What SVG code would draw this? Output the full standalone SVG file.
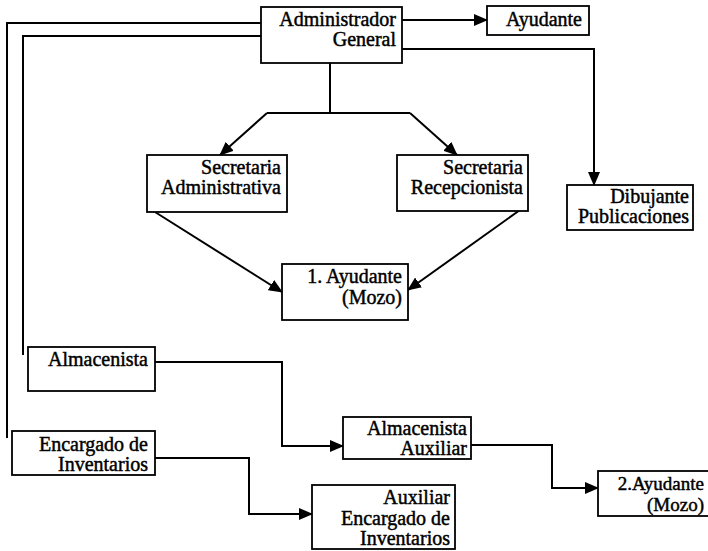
<svg xmlns="http://www.w3.org/2000/svg" width="708" height="551" viewBox="0 0 708 551">
<defs>
<marker id="ah" markerUnits="userSpaceOnUse" markerWidth="14" markerHeight="12" refX="13" refY="6" orient="auto">
<path d="M0,0 L14,6 L0,12 z" fill="#000"/>
</marker>
<style>
.b{fill:#fff;stroke:#000;stroke-width:1.8}
.t{font-family:"Liberation Serif","Times New Roman",serif;font-size:20px;fill:#000;text-anchor:end;stroke:#000;stroke-width:0.45}
.s{font-size:19px}
.c{fill:none;stroke:#000;stroke-width:2}
.a{fill:none;stroke:#000;stroke-width:2;marker-end:url(#ah)}
</style>
</defs>
<rect width="708" height="551" fill="#fff"/>
<g id="connectors">
<path class="c" d="M261,23 H7 V438"/>
<path class="c" d="M261,36 H23 V355"/>
<path class="a" d="M402,20 H487"/>
<path class="a" d="M402,49 H594 V185"/>
<path class="c" d="M330,63 V113"/>
<path class="c" d="M267,113 H410"/>
<path class="a" d="M267,113 L220,155"/>
<path class="a" d="M410,113 L457,155"/>
<path class="a" d="M155,212 L282,292"/>
<path class="a" d="M520,210 L408,290"/>
<path class="a" d="M155,362 H282 V446 H343"/>
<path class="a" d="M155,458 H249 V514 H312"/>
<path class="a" d="M471,445 H552 V488 H598"/>
</g>
<g id="admin-general">
<rect class="b" x="261" y="7" width="141" height="56"/>
<text class="t" x="396" y="26">Administrador</text>
<text class="t" x="396" y="46">General</text>
</g>
<g id="ayudante">
<rect class="b" x="487" y="6" width="102" height="29"/>
<text class="t" x="582" y="26">Ayudante</text>
</g>
<g id="sec-admin">
<rect class="b" x="147" y="155" width="140" height="57"/>
<text class="t" x="281" y="174">Secretaria</text>
<text class="t" x="281" y="194">Administrativa</text>
</g>
<g id="sec-recep">
<rect class="b" x="397" y="155" width="131" height="56"/>
<text class="t" x="523" y="174">Secretaria</text>
<text class="t" x="523" y="194">Recepcionista</text>
</g>
<g id="dibujante">
<rect class="b" x="567" y="185" width="126" height="45"/>
<text class="t" x="689" y="203">Dibujante</text>
<text class="t" x="689" y="223">Publicaciones</text>
</g>
<g id="ayudante1">
<rect class="b" x="282" y="264" width="126" height="56"/>
<text class="t" x="402" y="283">1. Ayudante</text>
<text class="t" x="402" y="304">(Mozo)</text>
</g>
<g id="almacenista">
<rect class="b" x="28" y="347" width="127" height="44"/>
<text class="t" x="148" y="366">Almacenista</text>
</g>
<g id="encargado">
<rect class="b" x="12" y="431" width="143" height="44"/>
<text class="t" x="148" y="451">Encargado de</text>
<text class="t" x="148" y="471">Inventarios</text>
</g>
<g id="alm-aux">
<rect class="b" x="343" y="417" width="128" height="42"/>
<text class="t" x="467" y="435">Almacenista</text>
<text class="t" x="467" y="455">Auxiliar</text>
</g>
<g id="aux-enc">
<rect class="b" x="312" y="485" width="143" height="64"/>
<text class="t" x="450" y="504">Auxiliar</text>
<text class="t" x="450" y="525">Encargado de</text>
<text class="t" x="450" y="545">Inventarios</text>
</g>
<g id="ayudante2">
<rect class="b" x="598" y="471" width="112" height="45"/>
<text class="t s" x="704" y="490">2.Ayudante</text>
<text class="t s" x="704" y="511">(Mozo)</text>
</g>
</svg>
